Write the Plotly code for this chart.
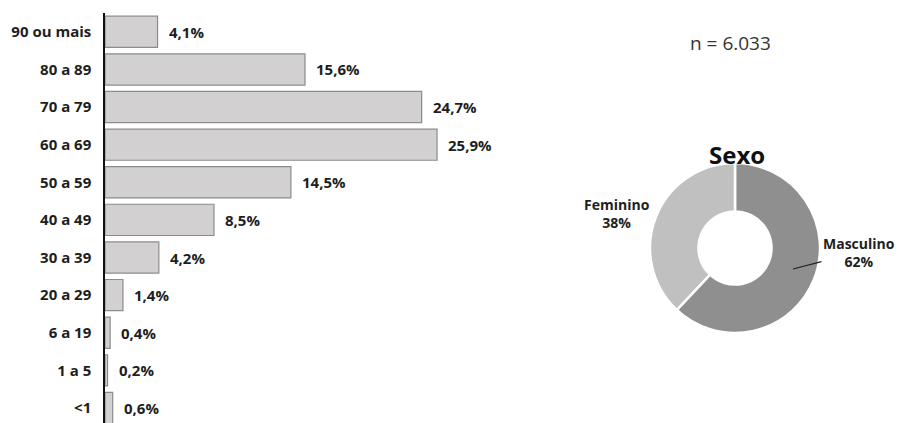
import plotly.graph_objects as go

# ---- data ----
age_groups = ["90 ou mais", "80 a 89", "70 a 79", "60 a 69", "50 a 59", "40 a 49",
              "30 a 39", "20 a 29", "6 a 19", "1 a 5", "<1"]
age_pct = [4.1, 15.6, 24.7, 25.9, 14.5, 8.5, 4.2, 1.4, 0.4, 0.2, 0.6]

sex_labels = ["Masculino", "Feminino"]
sex_pct = [62, 38]
sample_text = "n = 6.033"
pie_title = "Sexo"

FONT = "Open Sans"
OFF = 8                      # page body margin
W, H = 905 - OFF, 423 - OFF  # figure size


def px(x):
    return (x - OFF) / W


def py(y):
    return (H - (y - OFF)) / H


def fmt(v):
    return f"{v:.1f}".replace(".", ",") + "%"


fig = go.Figure()

fig.add_trace(go.Bar(
    y=age_groups, x=age_pct, orientation="h",
    marker=dict(color="#D2D0D1", line=dict(color="#8C8C8C", width=1.2)),
    hoverinfo="skip", showlegend=False,
))

for g, v in zip(age_groups, age_pct):
    fig.add_annotation(x=v, y=g, xref="x", yref="y", text=fmt(v),
                       showarrow=False, xanchor="left", xshift=9,
                       font=dict(family=FONT, size=15, color="#1E1E1E", weight="bold"))

fig.add_trace(go.Pie(
    labels=sex_labels, values=sex_pct, hole=0.43, sort=False, direction="clockwise",
    rotation=0, textinfo="none", showlegend=False, hoverinfo="skip",
    marker=dict(colors=["#8F8F8F", "#C0C0C0"], line=dict(color="white", width=2.5)),
    domain=dict(x=[px(650), px(820)], y=[py(333), py(163)]),
))

# pie labels
fig.add_annotation(x=px(793), y=py(269), xref="paper", yref="paper",
                   text=f"{sex_labels[0]}<br>{sex_pct[0]}%", showarrow=True,
                   arrowhead=0, arrowwidth=1.2, arrowcolor="#222222", ax=66, ay=-17,
                   font=dict(family=FONT, size=14, color="#1E1E1E", weight="bold"))
fig.add_annotation(x=px(617), y=py(213), xref="paper", yref="paper",
                   xanchor="center", yanchor="middle",
                   text=f"{sex_labels[1]}<br>{sex_pct[1]}%", showarrow=False,
                   font=dict(family=FONT, size=14, color="#1E1E1E", weight="bold"))
fig.add_annotation(x=px(737), y=py(154), xref="paper", yref="paper",
                   xanchor="center", yanchor="middle",
                   text=pie_title, showarrow=False,
                   font=dict(family=FONT, size=24, color="#111111", weight="bold"))
fig.add_annotation(x=px(730), y=py(43), xref="paper", yref="paper",
                   xanchor="center", yanchor="middle",
                   text=sample_text, showarrow=False,
                   font=dict(family=FONT, size=19, color="#333333"))

fig.update_layout(
    width=W, height=H, margin=dict(l=0, r=0, t=0, b=0),
    paper_bgcolor="white", plot_bgcolor="white", bargap=0.17,
    xaxis=dict(domain=[px(105), px(505)], range=[0, 400 / 12.82], visible=False,
               fixedrange=True),
    yaxis=dict(domain=[0, py(13)], categoryorder="array", categoryarray=age_groups,
               range=[10.4, -0.5], showline=True, linecolor="#111111", linewidth=1.5,
               ticks="", showgrid=False, ticklabelstandoff=9,
               tickfont=dict(family=FONT, size=15, color="#1E1E1E", weight="bold")),
)

fig.write_html("out.html")
